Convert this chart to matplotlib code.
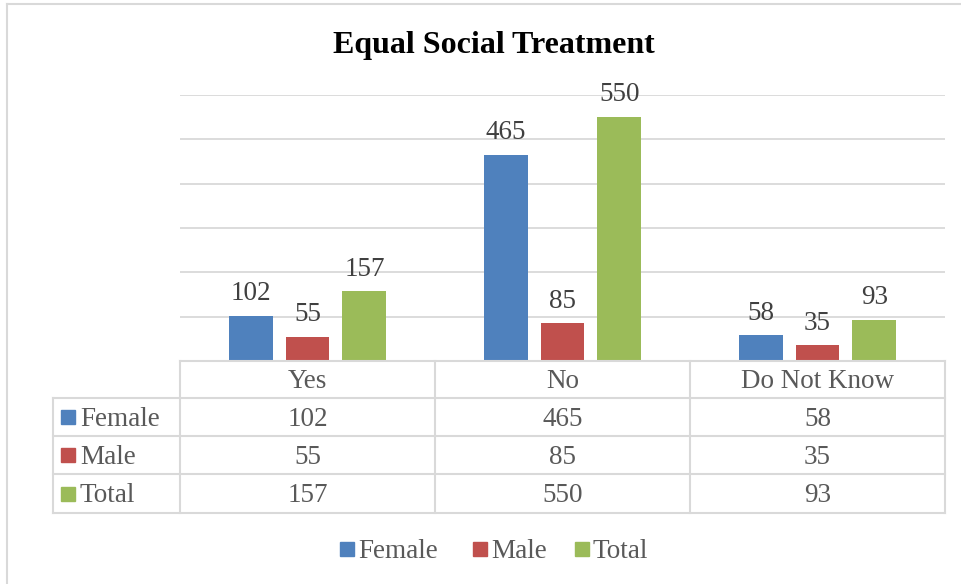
import matplotlib.pyplot as plt
from matplotlib.patches import Rectangle
from matplotlib.lines import Line2D
import numpy as np

plt.rcParams['font.family'] = ['Liberation Serif', 'DejaVu Serif']

categories = ['Yes', 'No', 'Do Not Know']
series = ['Female', 'Male', 'Total']
female = [102, 465, 58]
male = [55, 85, 35]
total = [157, 550, 93]
colors = ['#4f81bd', '#c0504d', '#9bbb59']

W, H = 962, 584
fig = plt.figure(figsize=(W / 100, H / 100), dpi=100)


def fx(px):
    return px / W


def fy(py):
    return 1 - py / H


grid_c = '#d9d9d9'
text_c = '#595959'
fs = 19.5
dy = 2  # text nudge down

# plot area
left, right, top, bottom = 180, 945, 95, 361
ax = fig.add_axes([fx(left), fy(bottom), fx(right) - fx(left), fy(top) - fy(bottom)])
ax.set_xlim(-0.5, 2.5)
ax.set_ylim(0, 600)
ax.set_yticks(np.arange(100, 601, 100))
ax.yaxis.grid(True, color=grid_c, lw=1.3)
ax.set_axisbelow(True)
ax.tick_params(left=False, bottom=False, labelleft=False, labelbottom=False)
for s in ax.spines.values():
    s.set_visible(False)

x = np.arange(len(categories))
step = 0.2235
bw = 0.1725
for i, (vals, c) in enumerate(zip([female, male, total], colors)):
    pos = x + (i - 1) * step
    bars = ax.bar(pos, vals, width=bw, color=c, zorder=3)
    for xp, v in zip(pos, vals):
        ax.annotate(str(v), (xp, v), xytext=(0, 7), textcoords='offset points',
                    ha='center', va='bottom', fontsize=fs, color='#404040')

# title
fig.text(fx(494), fy(45), 'Equal Social Treatment', ha='center', va='center',
         fontsize=23, fontweight='bold', color='black')

# outer border (left and top visible)
fig.add_artist(Line2D([fx(7), fx(7)], [fy(4), 0], color=grid_c, lw=1.5))
fig.add_artist(Line2D([fx(7), 1], [fy(4), fy(4)], color=grid_c, lw=1.5))

# data table
rows_y = [361, 398, 436, 474, 513]
cols_x = [180, 435, 690, 945]
tab_left = 53


def hline(y, x0, x1):
    fig.add_artist(Line2D([fx(x0), fx(x1)], [fy(y), fy(y)], color=grid_c, lw=1.5))


def vline(x0, y0, y1):
    fig.add_artist(Line2D([fx(x0), fx(x0)], [fy(y0), fy(y1)], color=grid_c, lw=1.5))


hline(rows_y[0], cols_x[0], cols_x[-1])
for y in rows_y[1:]:
    hline(y, tab_left, cols_x[-1])
for xc in cols_x:
    vline(xc, rows_y[0], rows_y[-1])
vline(tab_left, rows_y[1], rows_y[-1])

for j, cat in enumerate(categories):
    cx = (cols_x[j] + cols_x[j + 1]) / 2
    fig.text(fx(cx), fy((rows_y[0] + rows_y[1]) / 2 + dy), cat, ha='center', va='center',
             fontsize=fs, color=text_c)

for i, (name, vals, c) in enumerate(zip(series, [female, male, total], colors)):
    cy = (rows_y[i + 1] + rows_y[i + 2]) / 2
    fig.add_artist(Rectangle((fx(61), fy(cy + 7)), fx(14), 14 / H, color=c))
    fig.text(fx(80), fy(cy + dy), name, ha='left', va='center', fontsize=fs, color=text_c)
    for j, v in enumerate(vals):
        cx = (cols_x[j] + cols_x[j + 1]) / 2
        fig.text(fx(cx), fy(cy + dy), str(v), ha='center', va='center', fontsize=fs, color=text_c)

# legend
leg_y = 549
for name, c, sx in zip(series, colors, [340, 473, 575]):
    fig.add_artist(Rectangle((fx(sx), fy(leg_y + 7)), fx(14), 14 / H, color=c))
    fig.text(fx(sx + 18), fy(leg_y + dy), name, ha='left', va='center', fontsize=fs, color=text_c)

fig.savefig('out.png', dpi=100)
